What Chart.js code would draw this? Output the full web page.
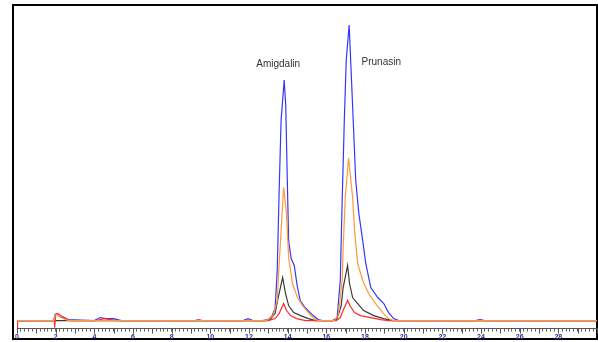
<!DOCTYPE html>
<html lang="en">
<head>
<meta charset="UTF-8">
<title>Chromatogram - Amigdalin / Prunasin</title>
<script src="https://cdn.jsdelivr.net/npm/chart.js"></script>
<style>
  html, body { margin: 0; padding: 0; background: #fff; }
  .wrap { position: relative; width: 598px; height: 342px; }
  .frame {
    position: absolute; left: 12px; top: 4px; width: 586px; height: 336px;
    border: 2px solid #000; box-sizing: border-box;
  }
  canvas { position: absolute; left: 0; top: 0; }
</style>
</head>
<body>
<div class="wrap">
  <div class="frame"></div>
  <canvas id="chrom" width="598" height="342"></canvas>
</div>
<script>
// retention time (min) and detector signal
const blueTime = [0, 1.9, 1.97, 2.07, 2.2, 2.4, 2.65, 4.0, 4.3, 4.6, 5.0, 5.4, 11.7, 11.95, 12.2, 12.68, 12.99, 13.20, 13.35, 13.46, 13.56, 13.66, 13.82, 13.90, 13.97, 14.05, 14.18, 14.34, 14.49, 14.65, 14.86, 15.06, 15.32, 15.58, 15.79, 16.36, 16.56, 16.72, 16.82, 16.93, 17.03, 17.18, 17.28, 17.39, 17.52, 17.68, 17.88, 18.04, 18.30, 18.66, 18.97, 19.22, 19.48, 19.74, 23.7, 23.95, 24.2, 30];
const blueSignal = [0, 0, 6, 7, 4, 3, 1, 0, 3, 2, 2, 0, 0, 2, 0, 0, 1, 5, 12, 50, 130, 200, 240, 215, 150, 80, 62, 55, 35, 20, 14, 10, 5, 1, 0, 0, 3, 40, 120, 200, 260, 295, 250, 200, 140, 107, 80, 57, 33, 23, 17, 8, 2, 0, 0, 1, 0, 0];

const orangeTime = [0, 1.9, 1.97, 2.07, 2.2, 2.4, 2.65, 12.9, 13.25, 13.46, 13.51, 13.61, 13.79, 13.94, 14.05, 14.25, 14.51, 14.77, 15.19, 15.55, 16.41, 16.61, 16.82, 16.87, 16.98, 17.15, 17.36, 17.46, 17.62, 17.88, 18.19, 18.55, 18.91, 19.22, 19.48, 30];
const orangeSignal = [0, 0, 5, 6, 4, 2, 0, 0, 5, 20, 40, 73, 133, 107, 63, 37, 23, 15, 5, 0, 0, 5, 40, 73, 123, 162, 123, 90, 57, 40, 27, 17, 8, 2, 0, 0];

const blackTime = [0, 12.9, 13.10, 13.35, 13.51, 13.74, 13.89, 14.05, 14.31, 14.67, 15.08, 15.44, 16.3, 16.51, 16.61, 16.77, 16.87, 17.10, 17.20, 17.36, 17.62, 17.93, 18.45, 18.96, 19.43, 30];
const blackSignal = [0, 0, 1, 7, 23, 43, 27, 15, 8, 5, 2, 0, 0, 1, 5, 15, 33, 55, 37, 23, 17, 10, 5, 2, 0, 0];

const redTime = [0, 0.03, 1.93, 1.95, 2.0, 2.1, 2.25, 2.45, 2.7, 4.1, 4.5, 5.2, 9.2, 9.4, 9.6, 13.0, 13.35, 13.56, 13.79, 13.94, 14.15, 14.46, 14.93, 16.51, 16.72, 16.87, 17.10, 17.25, 17.46, 17.77, 18.29, 18.81, 19.22, 30];
const redSignal = [-8, 0, 0, -7, 6, 7, 5, 3, 0, 0, 2, 0, 0, 1, 0, 0, 2, 7, 17, 10, 5, 2, 0, 0, 3, 10, 20, 14, 8, 5, 3, 1, 0, 0];

const peakNames = ['Amigdalin', 'Prunasin'];
const peakLabelTime = [13.51, 18.84];
const peakLabelSignal = [256, 258];

function pts(t, s) {
  return t.map((x, i) => ({ x: x, y: s[i] }));
}

function trace(label, t, s, color) {
  return {
    label: label,
    data: pts(t, s),
    borderColor: color,
    borderWidth: 1.2,
    pointRadius: 0,
    tension: 0,
    fill: false
  };
}

// minor ticks come from chart.js, longer ones at every minute + peak names
const extras = {
  id: 'extras',
  afterDraw(chart) {
    const ctx = chart.ctx;
    const x = chart.scales.x, y = chart.scales.y;
    const bottom = chart.chartArea.bottom;
    ctx.save();
    ctx.strokeStyle = '#555';
    ctx.lineWidth = 1;
    for (let m = 0; m <= 30; m++) {
      const px = Math.round(x.getPixelForValue(m)) + 0.5;
      ctx.beginPath();
      ctx.moveTo(px, bottom);
      ctx.lineTo(px, bottom + 5);
      ctx.stroke();
    }
    ctx.fillStyle = '#333';
    ctx.font = '10px "Liberation Sans", Arial, sans-serif';
    ctx.textAlign = 'center';
    ctx.textBaseline = 'middle';
    peakNames.forEach((n, i) => {
      ctx.fillText(n, x.getPixelForValue(peakLabelTime[i]), y.getPixelForValue(peakLabelSignal[i]));
    });
    ctx.restore();
  }
};

new Chart(document.getElementById('chrom'), {
  type: 'line',
  data: {
    datasets: [
      trace('orange', orangeTime, orangeSignal, '#ff9933'),
      trace('red', redTime, redSignal, '#ff2a2a'),
      trace('black', blackTime, blackSignal, '#3a3a3a'),
      trace('blue', blueTime, blueSignal, '#3535ff')
    ]
  },
  options: {
    responsive: false,
    animation: false,
    layout: { padding: { left: 17, right: 1, top: 20, bottom: 0 } },
    plugins: { legend: { display: false }, tooltip: { enabled: false } },
    scales: {
      x: {
        type: 'linear',
        min: 0,
        max: 30,
        border: { color: '#555', width: 1 },
        grid: { drawOnChartArea: false, tickLength: 3, tickColor: '#666' },
        ticks: {
          stepSize: 0.2,
          autoSkip: false,
          maxRotation: 0,
          padding: 1,
          color: '#2e2e8c',
          font: { size: 7, weight: 'bold', family: '"Liberation Sans", Arial, sans-serif' },
          callback: function (v) {
            const r = Math.round(v);
            if (Math.abs(v - r) < 1e-6 && r % 2 === 0 && r < 30) return String(r);
            return '';
          }
        }
      },
      y: { display: false, min: -8, max: 300 }
    }
  },
  plugins: [extras]
});
</script>
</body>
</html>
